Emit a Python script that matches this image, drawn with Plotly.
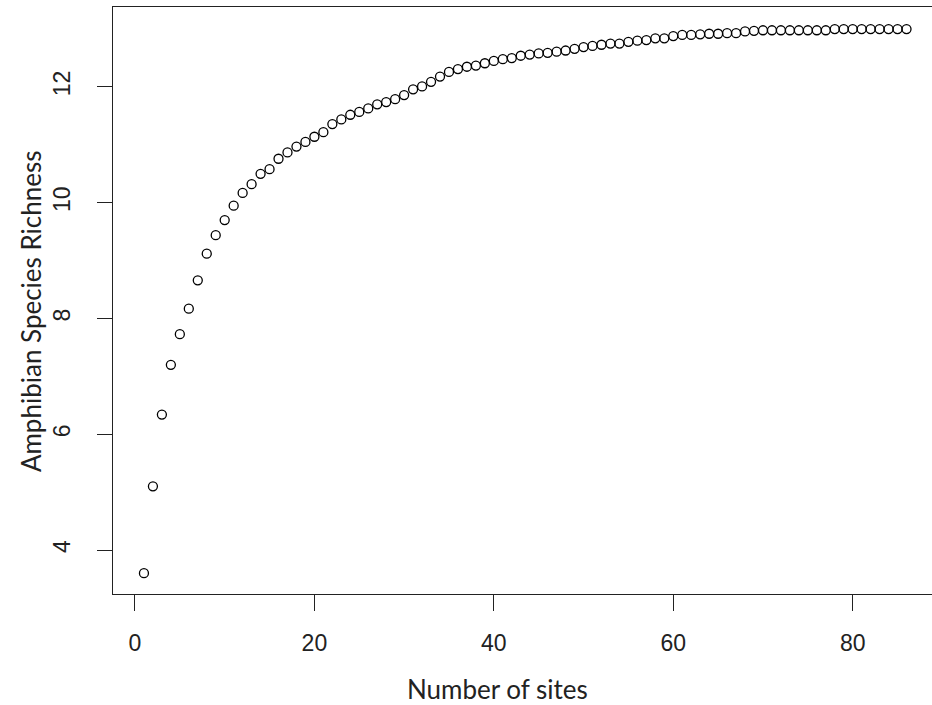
import plotly.graph_objects as go

sites = list(range(1, 87))
richness = [
    3.60, 5.10, 6.34, 7.20, 7.73, 8.17, 8.66, 9.12, 9.44, 9.70,
    9.95, 10.17, 10.32, 10.50, 10.58, 10.76, 10.87, 10.97, 11.05, 11.14,
    11.22, 11.36, 11.44, 11.52, 11.57, 11.63, 11.70, 11.74, 11.79, 11.86,
    11.96, 12.01, 12.09, 12.18, 12.26, 12.31, 12.35, 12.37, 12.41, 12.45,
    12.48, 12.50, 12.54, 12.56, 12.58, 12.59, 12.61, 12.63, 12.66, 12.69,
    12.71, 12.73, 12.75, 12.75, 12.78, 12.80, 12.81, 12.84, 12.84, 12.88,
    12.90, 12.90, 12.91, 12.92, 12.92, 12.93, 12.93, 12.96, 12.97, 12.98,
    12.98, 12.98, 12.98, 12.98, 12.98, 12.98, 12.98, 13.00, 13.00, 13.00,
    13.00, 13.00, 13.00, 13.00, 13.00, 13.00,
]
x_ticks = [0, 20, 40, 60, 80]
y_ticks = [4, 6, 8, 10, 12]
x_title = "Number of sites"
y_title = "Amphibian Species Richness"

fig = go.Figure(
    go.Scatter(
        x=sites, y=richness, mode="markers",
        marker=dict(symbol="circle-open", size=9, color="black",
                    line=dict(width=1.3, color="black")),
        hoverinfo="x+y",
    )
)

tick_font = dict(family="Liberation Sans, Arial, sans-serif", size=23, color="#222")
title_font = dict(family="Lato, Calibri, sans-serif", size=26, color="#222")

fig.update_layout(
    width=932, height=705, autosize=False,
    margin=dict(l=113, r=0, t=7, b=111),
    paper_bgcolor="white", plot_bgcolor="white",
    showlegend=False,
    annotations=[
        dict(text=x_title, xref="paper", yref="paper", x=0.4689, y=-0.1618,
             xanchor="center", yanchor="middle", showarrow=False, font=title_font),
        dict(text=y_title, xref="paper", yref="paper", x=-0.1001, y=0.482,
             xanchor="center", yanchor="middle", showarrow=False, font=title_font,
             textangle=-90),
    ],
)
fig.update_xaxes(
    range=[-2.45, 88.84], tickvals=x_ticks, ticktext=[str(v) for v in x_ticks],
    showgrid=False, zeroline=False,
    showline=True, linecolor="#222", linewidth=1, mirror=True,
    ticks="outside", ticklen=16, tickwidth=1, tickcolor="#222",
    tickfont=tick_font, ticklabelstandoff=12,
)
fig.update_yaxes(
    range=[3.24, 13.382], tickvals=y_ticks, ticktext=[str(v) for v in y_ticks],
    showgrid=False, zeroline=False,
    showline=True, linecolor="#222", linewidth=1, mirror=False,
    ticks="outside", ticklen=15, tickwidth=1, tickcolor="#222",
    tickfont=tick_font, tickangle=-90, ticklabelstandoff=18,
)

fig.write_html("out.html")
